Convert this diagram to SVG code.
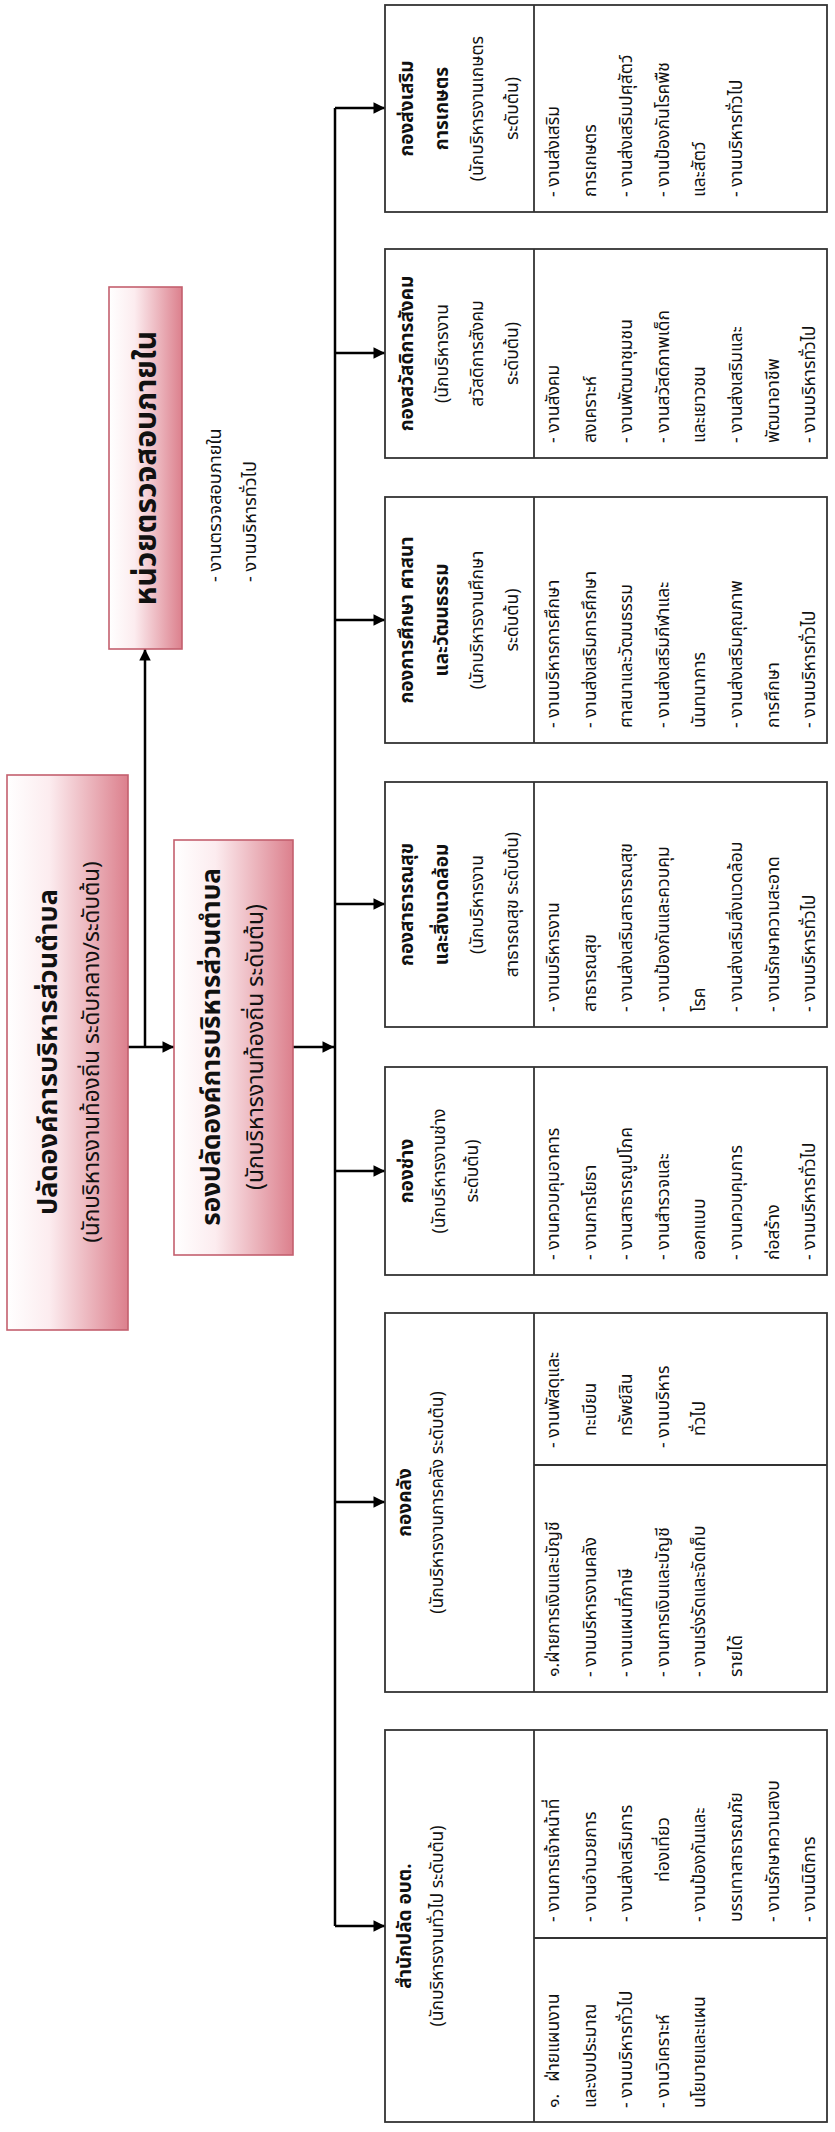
<svg xmlns="http://www.w3.org/2000/svg" width="835" height="2132" viewBox="0 0 835 2132">
<defs>
<linearGradient id="pink" x1="0" y1="0" x2="0" y2="1">
<stop offset="0" stop-color="#ffffff"/>
<stop offset="0.35" stop-color="#fcecef"/>
<stop offset="1" stop-color="#dc808d"/>
</linearGradient>
<marker id="arr" viewBox="0 0 10 10" refX="10" refY="5" markerWidth="5.2" markerHeight="4.6" orient="auto" markerUnits="strokeWidth">
<path d="M0,0 L10,5 L0,10 z" fill="#000"/>
</marker>
<style>
.t{font-family:"Noto Sans Thai","Noto Sans Thai UI","Loma","Garuda","Noto Sans","DejaVu Sans",sans-serif;fill:#111}
.h{font-size:19px;font-weight:bold;text-anchor:middle}
.s{font-size:17.5px;text-anchor:middle}
.b{font-size:17.5px}
.box{fill:#fff;stroke:#333;stroke-width:1.8}
.dv{stroke:#333;stroke-width:1.8}
.pbox{fill:url(#pink);stroke:#c4606e;stroke-width:1.6}
.ln{stroke:#000;stroke-width:2.5;fill:none}
.arw{stroke:#000;stroke-width:2.5;fill:none;marker-end:url(#arr)}
.title{font-weight:bold;text-anchor:middle}
.sub{text-anchor:middle}
.it{font-size:18px}
</style>
</defs>
<rect width="835" height="2132" fill="#fff"/>
<g transform="translate(0,2132) rotate(-90)">

<g id="connectors">
<line class="arw" x1="1085" y1="128" x2="1085" y2="174"/>
<line class="arw" x1="1085" y1="145" x2="1483" y2="145"/>
<line class="arw" x1="1085" y1="293" x2="1085" y2="334"/>
<line class="ln" x1="206" y1="335" x2="2024" y2="335"/>
<line class="arw" x1="2024" y1="335" x2="2024" y2="385"/>
<line class="arw" x1="1779" y1="335" x2="1779" y2="385"/>
<line class="arw" x1="1512" y1="335" x2="1512" y2="385"/>
<line class="arw" x1="1228" y1="335" x2="1228" y2="385"/>
<line class="arw" x1="961" y1="335" x2="961" y2="385"/>
<line class="arw" x1="630" y1="335" x2="630" y2="385"/>
<line class="arw" x1="206" y1="335" x2="206" y2="385"/>
</g>

<g id="n-chief">
<rect class="pbox" x="802" y="7" width="555" height="121"/>
<text class="t title" x="1080" y="57" font-size="27">ปลัดองค์การบริหารส่วนตำบล</text>
<text class="t sub" x="1080" y="99" font-size="22.5">(นักบริหารงานท้องถิ่น ระดับกลาง/ระดับต้น)</text>
</g>

<g id="n-deputy">
<rect class="pbox" x="877" y="174" width="415" height="119"/>
<text class="t title" x="1085" y="220" font-size="26">รองปลัดองค์การบริหารส่วนตำบล</text>
<text class="t sub" x="1085" y="263" font-size="23">(นักบริหารงานท้องถิ่น ระดับต้น)</text>
</g>

<g id="n-audit">
<rect class="pbox" x="1483" y="109" width="362" height="73"/>
<text class="t title" x="1664" y="156" font-size="30">หน่วยตรวจสอบภายใน</text>
<text class="t it" x="1550" y="221">- งานตรวจสอบภายใน</text>
<text class="t it" x="1550" y="256">- งานบริหารทั่วไป</text>
</g>

<g id="n-agri">
<rect class="box" x="1920" y="385" width="207" height="442"/>
<line class="dv" x1="1920" y1="534" x2="2127" y2="534"/>
<text class="t h" x="2023.5" y="413">กองส่งเสริม</text>
<text class="t h" x="2023.5" y="448">การเกษตร</text>
<text class="t s" x="2023.5" y="483">(นักบริหารงานเกษตร</text>
<text class="t s" x="2023.5" y="518">ระดับต้น)</text>
<text class="t b" x="1935" y="559">- งานส่งเสริม</text>
<text class="t b" x="1935" y="596">การเกษตร</text>
<text class="t b" x="1935" y="632">- งานส่งเสริมปศุสัตว์</text>
<text class="t b" x="1935" y="669">- งานป้องกันโรคพืช</text>
<text class="t b" x="1935" y="705">และสัตว์</text>
<text class="t b" x="1935" y="742">- งานบริหารทั่วไป</text>
</g>

<g id="n-social">
<rect class="box" x="1674" y="385" width="209" height="442"/>
<line class="dv" x1="1674" y1="534" x2="1883" y2="534"/>
<text class="t h" x="1778.5" y="413">กองสวัสดิการสังคม</text>
<text class="t s" x="1778.5" y="448">(นักบริหารงาน</text>
<text class="t s" x="1778.5" y="483">สวัสดิการสังคม</text>
<text class="t s" x="1778.5" y="518">ระดับต้น)</text>
<text class="t b" x="1689" y="559">- งานสังคม</text>
<text class="t b" x="1689" y="596">สงเคราะห์</text>
<text class="t b" x="1689" y="632">- งานพัฒนาชุมชน</text>
<text class="t b" x="1689" y="669">- งานสวัสดิภาพเด็ก</text>
<text class="t b" x="1689" y="705">และเยาวชน</text>
<text class="t b" x="1689" y="742">- งานส่งเสริมและ</text>
<text class="t b" x="1689" y="779">พัฒนาอาชีพ</text>
<text class="t b" x="1689" y="815">- งานบริหารทั่วไป</text>
</g>

<g id="n-edu">
<rect class="box" x="1389" y="385" width="246" height="442"/>
<line class="dv" x1="1389" y1="534" x2="1635" y2="534"/>
<text class="t h" x="1512" y="413">กองการศึกษา ศาสนา</text>
<text class="t h" x="1512" y="448">และวัฒนธรรม</text>
<text class="t s" x="1512" y="483">(นักบริหารงานศึกษา</text>
<text class="t s" x="1512" y="518">ระดับต้น)</text>
<text class="t b" x="1404" y="559">- งานบริหารการศึกษา</text>
<text class="t b" x="1404" y="596">- งานส่งเสริมการศึกษา</text>
<text class="t b" x="1404" y="632">ศาสนาและวัฒนธรรม</text>
<text class="t b" x="1404" y="669">- งานส่งเสริมกีฬาและ</text>
<text class="t b" x="1404" y="705">นันทนาการ</text>
<text class="t b" x="1404" y="742">- งานส่งเสริมคุณภาพ</text>
<text class="t b" x="1404" y="779">การศึกษา</text>
<text class="t b" x="1404" y="815">- งานบริหารทั่วไป</text>
</g>

<g id="n-health">
<rect class="box" x="1105" y="385" width="245" height="442"/>
<line class="dv" x1="1105" y1="534" x2="1350" y2="534"/>
<text class="t h" x="1227.5" y="413">กองสาธารณสุข</text>
<text class="t h" x="1227.5" y="448">และสิ่งแวดล้อม</text>
<text class="t s" x="1227.5" y="483">(นักบริหารงาน</text>
<text class="t s" x="1227.5" y="518">สาธารณสุข ระดับต้น)</text>
<text class="t b" x="1120" y="559">- งานบริหารงาน</text>
<text class="t b" x="1120" y="596">สาธารณสุข</text>
<text class="t b" x="1120" y="632">- งานส่งเสริมสาธารณสุข</text>
<text class="t b" x="1120" y="669">- งานป้องกันและควบคุม</text>
<text class="t b" x="1120" y="705">โรค</text>
<text class="t b" x="1120" y="742">- งานส่งเสริมสิ่งแวดล้อม</text>
<text class="t b" x="1120" y="779">- งานรักษาความสะอาด</text>
<text class="t b" x="1120" y="815">- งานบริหารทั่วไป</text>
</g>

<g id="n-works">
<rect class="box" x="857" y="385" width="208" height="442"/>
<line class="dv" x1="857" y1="534" x2="1065" y2="534"/>
<text class="t h" x="961" y="413">กองช่าง</text>
<text class="t s" x="961" y="445">(นักบริหารงานช่าง</text>
<text class="t s" x="961" y="478">ระดับต้น)</text>
<text class="t b" x="872" y="559">- งานควบคุมอาคาร</text>
<text class="t b" x="872" y="596">- งานการโยธา</text>
<text class="t b" x="872" y="632">- งานสาธารณูปโภค</text>
<text class="t b" x="872" y="669">- งานสำรวจและ</text>
<text class="t b" x="872" y="705">ออกแบบ</text>
<text class="t b" x="872" y="742">- งานควบคุมการ</text>
<text class="t b" x="872" y="779">ก่อสร้าง</text>
<text class="t b" x="872" y="815">- งานบริหารทั่วไป</text>
</g>

<g id="n-finance">
<rect class="box" x="440" y="385" width="379" height="442"/>
<line class="dv" x1="440" y1="534" x2="819" y2="534"/>
<line class="dv" x1="667" y1="534" x2="667" y2="827"/>
<text class="t h" x="629.5" y="411">กองคลัง</text>
<text class="t s" x="629.5" y="443">(นักบริหารงานการคลัง ระดับต้น)</text>
<text class="t b" x="455" y="559">๑.ฝ่ายการเงินและบัญชี</text>
<text class="t b" x="455" y="596">- งานบริหารงานคลัง</text>
<text class="t b" x="455" y="632">- งานแผนที่ภาษี</text>
<text class="t b" x="455" y="669">- งานการเงินและบัญชี</text>
<text class="t b" x="455" y="705">- งานเร่งรัดและจัดเก็บ</text>
<text class="t b" x="455" y="742">รายได้</text>
<text class="t b" x="684" y="559">- งานพัสดุและ</text>
<text class="t b" x="696" y="596">ทะเบียน</text>
<text class="t b" x="696" y="632">ทรัพย์สิน</text>
<text class="t b" x="684" y="669">- งานบริหาร</text>
<text class="t b" x="696" y="705">ทั่วไป</text>
</g>

<g id="n-office">
<rect class="box" x="10" y="385" width="392" height="442"/>
<line class="dv" x1="10" y1="534" x2="402" y2="534"/>
<line class="dv" x1="194" y1="534" x2="194" y2="827"/>
<text class="t h" x="206" y="411">สำนักปลัด อบต.</text>
<text class="t s" x="206" y="443">(นักบริหารงานทั่วไป ระดับต้น)</text>
<text class="t b" x="24" y="559">๑.<tspan dx="12">ฝ่ายแผนงาน</tspan></text>
<text class="t b" x="24" y="596">และงบประมาณ</text>
<text class="t b" x="24" y="632">- งานบริหารทั่วไป</text>
<text class="t b" x="24" y="669">- งานวิเคราะห์</text>
<text class="t b" x="24" y="705">นโยบายและแผน</text>
<text class="t b" x="210" y="559">- งานการเจ้าหน้าที่</text>
<text class="t b" x="210" y="596">- งานอำนวยการ</text>
<text class="t b" x="210" y="632">- งานส่งเสริมการ</text>
<text class="t b" x="250" y="669">ท่องเที่ยว</text>
<text class="t b" x="210" y="705">- งานป้องกันและ</text>
<text class="t b" x="210" y="742">บรรเทาสาธารณภัย</text>
<text class="t b" x="210" y="779">- งานรักษาความสงบ</text>
<text class="t b" x="210" y="815">- งานนิติการ</text>
</g>

</g>
</svg>
